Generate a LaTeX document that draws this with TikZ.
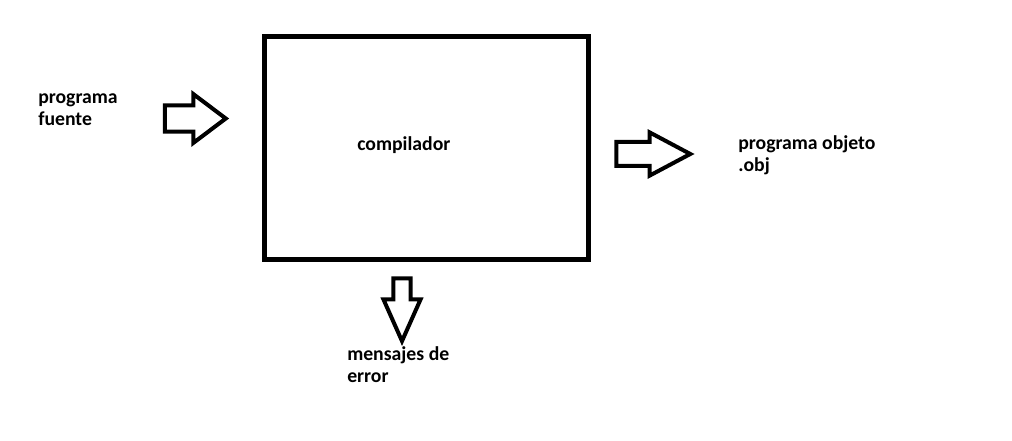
\documentclass[tikz,border=0pt]{standalone}
\usepackage{fontspec}
\setmainfont{Carlito}
\usetikzlibrary{shapes.arrows}
\tikzset{
    blockarrow/.style={draw, single arrow, line width=3pt, inner xsep=0pt, miter limit=10},
    label/.style={font=\fontsize{14.8}{16.5}\selectfont\bfseries, align=left, inner sep=0pt}
}

\begin{document}
\begin{tikzpicture}[x=0.75pt, y=-0.75pt]
            \useasboundingbox (0,0) rectangle (1012,441);

            \node[draw, line width=3.4pt, minimum width=243pt, minimum height=167pt, inner sep=0pt] (compiler) at (426.5, 148) {};

            \node[blockarrow, minimum height=45.75pt, inner ysep=8.4pt, single arrow head extend=8.4pt, single arrow tip angle=74] (inarrow) at (186.5, 118.5) {};
            \node[blockarrow, minimum height=55.5pt, inner ysep=7.5pt, single arrow head extend=7.2pt, single arrow tip angle=56] (outarrow) at (642, 154) {};
            \node[blockarrow, rotate=-90, minimum height=47pt, inner ysep=5pt, single arrow head extend=7.4pt, single arrow tip angle=48] (errarrow) at (402, 300) {};

            \node[label, anchor=base west] (source) at (38, 126) {programa\\fuente};
            \node[label, anchor=base west] (compname) at (357, 151) {compilador};
            \node[label, anchor=base west] (object) at (738, 172) {programa objeto\\.obj};
            \node[label, anchor=base west] (errors) at (347, 382) {mensajes de\\error};
        \end{tikzpicture}
\end{document}
